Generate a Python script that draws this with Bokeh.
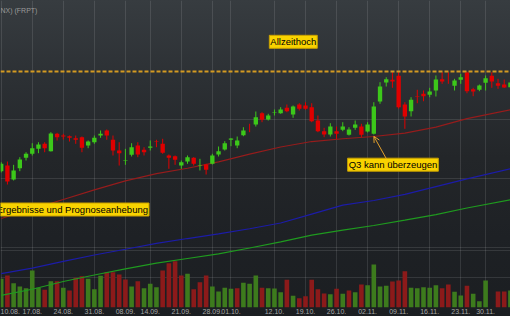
import pandas as pd
from bokeh.plotting import figure
from bokeh.models import (Range1d, FixedTicker, Span, Label, Arrow, OpenHead,
                          ColumnDataSource, Grid)
from bokeh.embed import file_html
from bokeh.resources import INLINE

# ---------------- data ----------------
title_text = "NX) (FRPT)"
tick_labels = ["10.08.", "17.08.", "24.08.", "31.08.", "08.09.", "14.09.", "21.09.",
               "28.09.", "01.10.", "12.10.", "19.10.", "26.10.", "02.11.", "09.11.",
               "16.11.", "23.11.", "30.11."]
holidays = ["2020-09-07", "2020-11-26"]

opens = [121.20, 122.17, 119.78, 121.71, 123.49, 124.18, 125.03, 125.89, 124.62, 127.60,
         127.31, 127.19, 126.85, 127.02, 125.60, 126.16, 127.31, 128.17, 126.58, 124.74,
         122.98, 124.01, 125.60, 124.86, 125.21, 126.34, 125.89, 123.89, 123.77, 122.17,
         122.86, 123.49, 122.12, 122.35, 122.47, 124.06, 124.91, 126.58, 125.60, 127.36,
         128.56, 129.20, 131.13, 130.05, 131.20, 131.13, 132.05, 130.91, 132.62, 132.45,
         132.16, 129.88, 128.05, 127.48, 128.05, 128.29, 127.43, 128.63, 128.85, 128.00,
         127.60, 133.13, 136.39, 136.85, 137.53, 132.62, 131.47, 134.08, 134.45, 134.28,
         135.02, 136.95, 137.30, 135.82, 136.85, 138.10, 135.24, 135.14, 136.34, 137.53,
         136.27, 136.04, 135.58]
highs = [122.74, 122.86, 122.29, 123.60, 124.45, 125.99, 126.16, 126.16, 127.88, 127.77,
         127.60, 127.31, 127.31, 127.14, 126.46, 127.31, 128.17, 128.34, 127.31, 126.16,
         125.03, 125.99, 126.16, 125.31, 126.46, 126.58, 126.75, 124.06, 123.89, 123.03,
         123.89, 123.60, 123.32, 122.47, 124.18, 125.43, 126.34, 126.85, 127.14, 128.73,
         129.32, 131.42, 131.30, 131.03, 131.76, 132.16, 132.62, 132.45, 132.84, 133.01,
         132.84, 130.74, 128.63, 129.42, 128.85, 129.59, 128.73, 129.88, 129.32, 129.59,
         133.01, 136.44, 137.29, 138.15, 138.27, 133.01, 133.87, 135.14, 135.02, 135.48,
         137.59, 138.15, 138.15, 137.02, 137.88, 138.27, 135.48, 136.04, 137.59, 138.15,
         137.02, 136.90, 136.73]
lows = [120.98, 118.92, 119.61, 121.20, 123.03, 123.89, 124.28, 124.45, 124.57, 126.46,
        126.63, 126.28, 125.89, 124.45, 125.14, 125.89, 126.92, 126.58, 123.89, 122.17,
        122.29, 123.72, 123.60, 123.89, 124.74, 125.31, 124.18, 121.61, 122.29, 121.61,
        122.47, 122.17, 121.32, 120.63, 122.35, 123.72, 124.74, 125.48, 125.14, 127.19,
        127.88, 128.85, 129.59, 129.88, 130.74, 131.03, 131.30, 130.34, 131.59, 131.71,
        129.59, 127.88, 127.02, 127.14, 126.75, 128.05, 127.31, 128.29, 127.02, 127.83,
        127.48, 132.74, 135.70, 135.48, 131.93, 128.46, 130.57, 132.84, 133.18, 133.87,
        133.99, 136.16, 136.16, 135.02, 136.16, 134.55, 134.04, 134.90, 135.02, 135.48,
        135.31, 135.48, 135.40]
closes = [122.47, 119.43, 121.32, 123.20, 124.18, 125.14, 125.77, 125.14, 127.65, 127.02,
          127.14, 126.92, 126.58, 125.21, 126.28, 126.92, 127.60, 127.31, 124.74, 124.28,
          123.08, 125.31, 124.06, 124.45, 125.43, 126.23, 124.35, 123.49, 123.15, 122.74,
          123.60, 122.47, 122.23, 121.44, 123.89, 124.62, 125.99, 126.80, 126.46, 128.17,
          128.55, 130.45, 130.00, 130.74, 131.30, 131.76, 131.47, 132.28, 131.88, 131.88,
          129.76, 128.05, 127.48, 128.85, 127.60, 128.85, 128.34, 129.20, 127.43, 129.20,
          132.28, 135.70, 136.95, 136.56, 132.16, 130.57, 133.42, 134.00, 134.05, 134.85,
          136.90, 136.56, 137.29, 136.73, 137.29, 134.90, 134.85, 135.87, 137.12, 136.56,
          135.82, 135.53, 136.39]
# volume in thousand shares
volumes = [478, 533, 405, 350, 322, 617, 328, 295, 438, 438,
           328, 283, 495, 522, 478, 305, 528, 588, 588, 550,
           467, 350, 438, 322, 395, 338, 617, 738, 772, 533,
           562, 305, 422, 533, 350, 267, 328, 312, 322, 412,
           395, 533, 328, 322, 317, 255, 462, 195, 155, 188,
           462, 305, 233, 222, 312, 228, 283, 255, 383, 372,
           717, 350, 362, 433, 450, 605, 328, 322, 338, 328,
           372, 322, 383, 262, 200, 362, 228, 105, 450, 0,
           267, 267, 283]
vol_up = [1, 0, 1, 1, 1, 1, 1, 0, 1, 0, 1, 0, 0, 0, 1, 1, 1, 0, 0, 0,
          0, 1, 0, 1, 1, 1, 0, 0, 0, 0, 1, 0, 0, 0, 1, 1, 1, 1, 0, 1,
          1, 1, 0, 1, 1, 1, 0, 1, 0, 0, 0, 0, 0, 1, 0, 1, 0, 1, 0, 1,
          1, 1, 1, 0, 0, 0, 1, 1, 1, 1, 1, 0, 0, 1, 1, 0, 1, 1, 1, 0,
          0, 0, 1]
# moving averages, read at every fifth trading day
ma_idx = [0, 5, 10, 15, 20, 25, 30, 35, 40, 45, 50, 55, 60, 65, 70, 75, 82]
ma_red = [113.10, 114.73, 116.35, 118.00, 119.55, 120.77, 121.70, 122.81, 124.13,
          125.34, 126.28, 126.76, 127.14, 127.72, 128.75, 130.19, 131.71]
ma_blue = [103.65, 104.61, 105.75, 106.85, 107.83, 108.85, 109.67, 110.46, 111.35,
           112.33, 113.85, 115.38, 116.18, 117.24, 118.56, 119.88, 121.61]
ma_green = [99.95, 100.98, 102.31, 103.42, 104.47, 105.46, 106.25, 107.04, 108.05,
            109.11, 110.24, 111.10, 111.90, 112.81, 113.77, 114.90, 116.30]

# ---------------- build ----------------
days = [d for d in pd.bdate_range("2020-08-10", "2020-12-04")
        if d.strftime("%Y-%m-%d") not in holidays]
idx = list(range(len(days)))
day_lab = [d.strftime("%d.%m.") for d in days]
tick_idx = [day_lab.index(t) for t in tick_labels]

UP, DOWN = "#3cc81a", "#e00000"
VUP, VDOWN = "#3d7b1d", "#8c1a1a"

src = ColumnDataSource(dict(
    x=idx, h=highs, l=lows,
    top=[max(a, b) for a, b in zip(opens, closes)],
    bot=[min(a, b) for a, b in zip(opens, closes)],
    col=[UP if c >= o else DOWN for o, c in zip(opens, closes)],
    vol=volumes,
    vcol=[VUP if u else VDOWN for u in vol_up],
))

p = figure(frame_width=510, frame_height=307,
           x_range=Range1d(-0.113, 82.01), y_range=Range1d(97.86, 150.43),
           output_backend="svg", toolbar_location=None, y_axis_location=None,
           min_border=0)
p.extra_y_ranges = {"vol": Range1d(0, 5116.7)}

p.background_fill_alpha = 0
p.border_fill_alpha = 0
p.outline_line_color = None
p.styles = {"background": "linear-gradient(180deg, #373c40 0%, #2c3034 25%, "
                          "#232629 50%, #1e2125 75%, #1b1e21 100%)"}

GRID = "#ffffff"
GA = 0.11
# hide default horizontal grid, use own ones
p.ygrid.grid_line_color = None
p.xgrid.ticker = FixedTicker(ticks=tick_idx)
p.xgrid.grid_line_color = GRID
p.xgrid.grid_line_alpha = GA
p.add_layout(Grid(dimension=1, ticker=FixedTicker(ticks=[120, 130]),
                  grid_line_color=GRID, grid_line_alpha=GA))
p.add_layout(Grid(dimension=1, y_range_name="vol",
                  ticker=FixedTicker(ticks=[500, 950, 1000]),
                  grid_line_color=GRID, grid_line_alpha=GA))

# volume
p.vbar(x="x", top="vol", bottom=0, width=0.74, fill_color="vcol",
       line_color=None, y_range_name="vol", source=src)

# moving averages
p.line(ma_idx, ma_green, line_color="#1f9a1f", line_width=1.2)
p.line(ma_idx, ma_blue, line_color="#1c1ca8", line_width=1.2)
p.line(ma_idx, ma_red, line_color="#951c1c", line_width=1.2)

# candles
p.segment(x0="x", y0="h", x1="x", y1="l", line_color="col", line_width=1, source=src)
p.vbar(x="x", top="top", bottom="bot", width=0.7, fill_color="col",
       line_color=None, source=src)

# all-time-high line
ath = max(highs)
p.add_layout(Span(location=ath, dimension="width", line_color="#d39a22",
                  line_width=2, line_dash="4 2"))

BOX = dict(text_font="Liberation Sans", text_font_size="9.5px", text_color="#000000",
           background_fill_color="#f9d300", border_line_color="#c9a000",
           border_line_width=1, padding=1)

p.add_layout(Label(x=292.8, y=265.7, x_units="screen", y_units="screen",
                   text="Allzeithoch", text_align="center", text_baseline="middle", **BOX))
p.add_layout(Label(x=148.5, y=98, x_units="screen", y_units="screen",
                   text="Ergebnisse und Prognoseanhebung", text_align="right",
                   text_baseline="middle", **BOX))
p.add_layout(Label(x=392.5, y=142.8, x_units="screen", y_units="screen",
                   text="Q3 kann überzeugen", text_align="center",
                   text_baseline="middle", **BOX))

q3 = 60
p.add_layout(Arrow(x_start=q3 + 2.05, y_start=lows[q3] - 4.2, x_end=q3, y_end=lows[q3] - 0.3,
                   line_color="#e3a02c", line_width=1,
                   end=OpenHead(size=6, line_color="#e3a02c", line_width=1)))

p.add_layout(Label(x=0, y=297, x_units="screen", y_units="screen", text=title_text,
                   text_font="Liberation Sans", text_font_size="7px",
                   text_color="#9a9a9a", text_align="left", text_baseline="middle"))

# x axis
p.xaxis.ticker = FixedTicker(ticks=tick_idx)
p.xaxis.major_label_overrides = {i: t for i, t in zip(tick_idx, tick_labels)}
p.xaxis.axis_line_color = None
p.xaxis.major_tick_line_color = None
p.xaxis.minor_tick_line_color = None
p.xaxis.major_tick_out = 0
p.xaxis.major_tick_in = 0
p.xaxis.major_label_standoff = 1
p.xaxis.major_label_text_font = "Liberation Sans"
p.xaxis.major_label_text_font_size = "7px"
p.xaxis.major_label_text_color = "#a8a8a8"

html = file_html(p, INLINE)
html = html.replace("<body>", '<body style="margin:0;background:#1b1e21;">', 1)
open("out.html", "w").write(html)
